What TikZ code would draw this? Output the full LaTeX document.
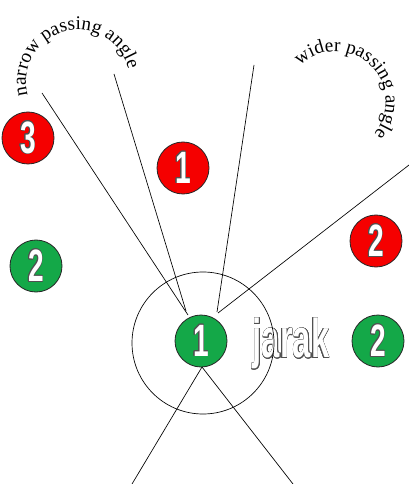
\documentclass[tikz,border=0pt]{standalone}
\usepackage{fontspec}
\setmainfont{Liberation Serif}
\newfontfamily\numfont{Liberation Sans}
\usepackage{contour}
\contourlength{0.5pt}
\usetikzlibrary{decorations.text}
\definecolor{tokred}{RGB}{245,0,0}
\definecolor{tokgreen}{RGB}{20,168,72}
\definecolor{outl}{RGB}{80,80,80}
\tikzset{
  token/.style={circle, draw=black!85, line width=0.6pt, minimum size=39pt, inner sep=0pt,
    font=\numfont\bfseries\fontsize{34}{34}\selectfont},
  redtok/.style={token, fill=tokred},
  greentok/.style={token, fill=tokgreen},
  passline/.style={line width=0.5pt, draw=black},
  arctext/.style={decorate, decoration={text along path, text align=center}},
}
\newcommand\numlabel[1]{\textcolor{white}{\contour{outl}{\scalebox{0.62}[1]{#1}}}}
\begin{document}
\begin{tikzpicture}[x=0.75pt, y=0.75pt]
\useasboundingbox (0,0) rectangle (409,-484);
% line end points
\coordinate (a1) at (42,-93);
\coordinate (a2) at (114,-74);
\coordinate (a3) at (254,-65);
\coordinate (a4) at (409,-165);
\coordinate (b1) at (188,-315);
\coordinate (b2) at (186,-311);
\coordinate (b3) at (217,-312);
\coordinate (b4) at (218,-313);
\coordinate (c0) at (202,-367);
\coordinate (c1) at (132,-484);
\coordinate (c2) at (293,-484);
% passing lines
\draw[passline] (a1) -- (b1);
\draw[passline] (a2) -- (b2);
\draw[passline] (a3) -- (b3);
\draw[passline] (a4) -- (b4);
\draw[passline] (c0) -- (c1);
\draw[passline] (c0) -- (c2);
% distance label
\node[font=\numfont\bfseries\fontsize{41}{41}\selectfont, inner sep=0pt] (jarak) at (291,-344)
  {\textcolor{white}{\contour{outl}{\scalebox{0.6}[1]{jarak}}}};
% zone circle
\node[circle, draw=black, line width=0.5pt, minimum size=106.5pt, inner sep=0pt] (zone) at (203,-343) {};
% tokens
\node[redtok] (r3) at (28,-138) {\numlabel{3}};
\node[redtok] (r1) at (183,-168) {\numlabel{1}};
\node[redtok] (r2) at (376,-241) {\numlabel{2}};
\node[greentok] (g2l) at (36,-266) {\numlabel{2}};
\node[greentok] (g1) at (201,-341) {\numlabel{1}};
\node[greentok] (g2r) at (378,-341) {\numlabel{2}};
% curved labels
\path[arctext, decoration={text={|\fontsize{14.5}{17}\selectfont|narrow passing angle}}]
  (78,-82) ++(197:39pt) arc[start angle=197, end angle=12, radius=39pt];
\path[arctext, decoration={text={|\fontsize{14.5}{17}\selectfont|wider passing angle}}]
  (335,-102) ++(142:38pt) arc[start angle=142, end angle=-48, radius=38pt];
\end{tikzpicture}
\end{document}
